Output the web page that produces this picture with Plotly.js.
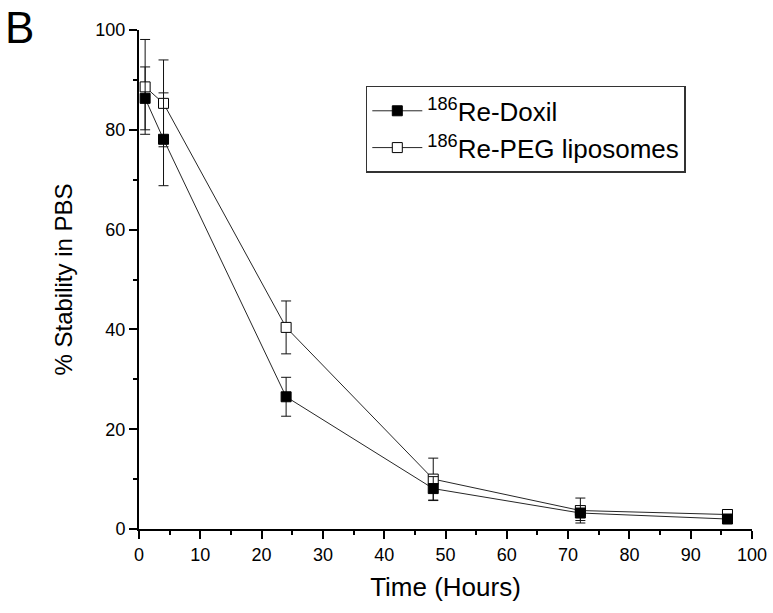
<!DOCTYPE html>
<html>
<head>
<meta charset="utf-8">
<script src="https://cdn.plot.ly/plotly-3.0.1.min.js"></script>
<style>
  html, body { margin: 0; padding: 0; background: #fff; }
  #chart { width: 773px; height: 613px; }
</style>
</head>
<body>
<div id="chart"></div>
<script>
  // values (time in hours, % stability)
  const timeHours = [1, 4, 24, 48, 72, 96];
  const doxil = [86.3, 78.1, 26.5, 8.1, 3.2, 2.0];
  const doxilErr = [6.3, 9.3, 3.9, 2.4, 1.5, 0.8];
  const peg = [88.6, 85.3, 40.4, 10.0, 3.7, 2.9];
  const pegErr = [9.5, 8.7, 5.3, 4.2, 2.5, 1.0];

  const xTicks = [0, 10, 20, 30, 40, 50, 60, 70, 80, 90, 100];
  const yTicks = [0, 20, 40, 60, 80, 100];

  const font = "Liberation Sans, Arial, sans-serif";

  function series(y, err, name, fill, rank) {
    return {
      x: timeHours,
      y: y,
      name: name,
      legendrank: rank,
      type: "scatter",
      mode: "lines+markers",
      line: { color: "#262626", width: 1 },
      marker: { symbol: "square", size: 10, color: fill, line: { color: "#000", width: 1 } },
      error_y: { type: "data", array: err, visible: true, color: "#111", thickness: 1, width: 5 },
      cliponaxis: false
    };
  }

  const traces = [
    series(peg, pegErr, "<sup>186</sup>Re-PEG liposomes", "#fff", 2),
    series(doxil, doxilErr, "<sup>186</sup>Re-Doxil", "#000", 1)
  ];

  const axisBase = {
    showline: true,
    linecolor: "#000",
    linewidth: 2,
    showgrid: false,
    zeroline: false,
    ticks: "outside",
    ticklen: 8,
    tickwidth: 2,
    tickcolor: "#000",
    tickfont: { family: font, size: 18, color: "#000" },
    tickmode: "array"
  };

  const layout = {
    width: 773,
    height: 613,
    margin: { l: 139, r: 21, t: 30, b: 84 },
    paper_bgcolor: "#fff",
    plot_bgcolor: "#fff",
    font: { family: font, color: "#000" },
    xaxis: Object.assign({}, axisBase, {
      range: [0, 100],
      tickvals: xTicks,
      ticktext: xTicks.map(String),
      minor: { ticks: "outside", ticklen: 4, tickwidth: 2, tickcolor: "#000", dtick: 5, tick0: 0, showgrid: false },
      title: { text: "Time (Hours)", font: { family: font, size: 26, color: "#000" }, standoff: 14 }
    }),
    yaxis: Object.assign({}, axisBase, {
      range: [0, 100],
      tickvals: yTicks,
      ticktext: yTicks.map(String),
      minor: { ticks: "outside", ticklen: 4, tickwidth: 2, tickcolor: "#000", dtick: 10, tick0: 0, showgrid: false },
      title: { text: "% Stability in PBS", font: { family: font, size: 24, color: "#000" }, standoff: 16 }
    }),
    showlegend: true,
    legend: {
      x: 0.37,
      y: 0.888,
      xanchor: "left",
      yanchor: "top",
      bgcolor: "#fff",
      bordercolor: "#333",
      borderwidth: 1.5,
      font: { family: font, size: 26, color: "#000" },
      itemwidth: 50,
      tracegroupgap: 0
    },
    annotations: [
      {
        text: "B",
        xref: "paper",
        yref: "paper",
        x: -0.222,
        y: 1.058,
        xanchor: "left",
        yanchor: "top",
        showarrow: false,
        font: { family: font, size: 44, color: "#000" }
      }
    ]
  };

  Plotly.newPlot("chart", traces, layout, { displayModeBar: false, staticPlot: true });
</script>
</body>
</html>
